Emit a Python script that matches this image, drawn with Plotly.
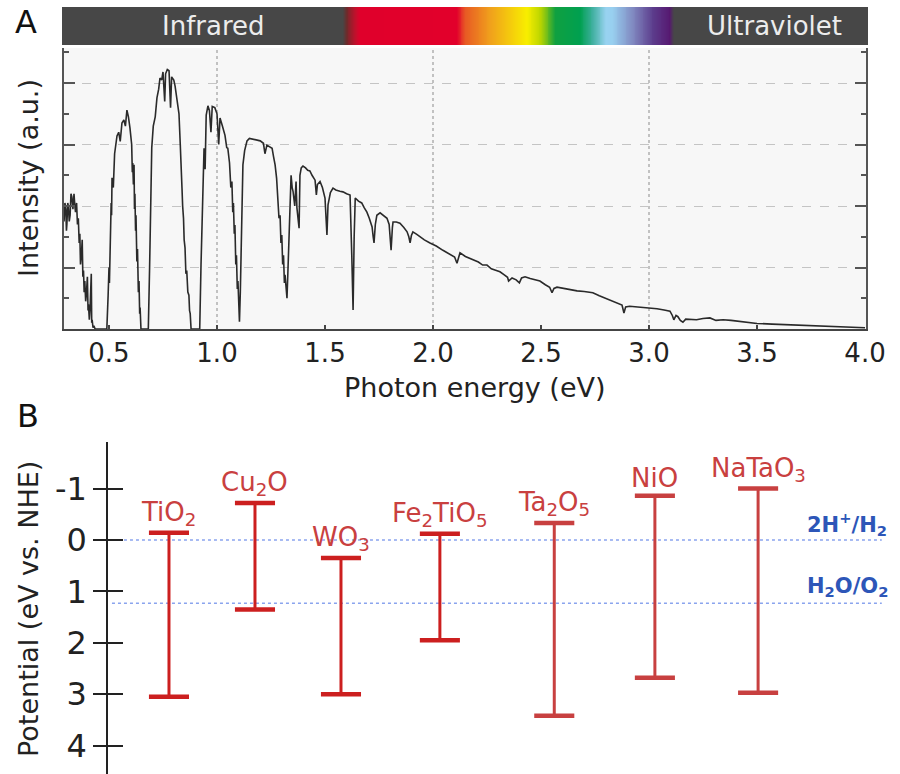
import plotly.graph_objects as go

W, H = 900, 774

# ---------------- Panel A: solar spectrum, (photon energy eV, intensity a.u.) ----
spectrum_points = [
    (0.292, 1.75), (0.296, 2.05), (0.300, 1.95), (0.303, 1.60), (0.305, 1.70), (0.309, 2.05),
    (0.312, 2.00), (0.316, 1.75), (0.320, 1.85), (0.324, 2.20), (0.328, 2.15), (0.333, 1.95),
    (0.338, 2.20), (0.342, 2.00), (0.345, 1.90), (0.350, 2.05), (0.354, 1.70), (0.358, 1.80),
    (0.362, 1.40), (0.365, 1.55), (0.368, 1.05), (0.372, 1.20), (0.376, 1.45), (0.379, 0.85),
    (0.382, 0.95), (0.385, 0.60), (0.388, 0.78), (0.392, 0.45), (0.395, 0.55), (0.400, 0.85),
    (0.403, 0.30), (0.405, 0.40), (0.409, 0.15), (0.412, 0.30), (0.418, 0.90), (0.420, 0.10),
    (0.422, 0.15), (0.426, 0.02), (0.430, 0.05), (0.436, 0.00), (0.480, 0.00),
    (0.490, 0.00), (0.496, 0.55), (0.500, 1.00), (0.502, 0.75), (0.505, 1.53), (0.507, 1.35),
    (0.510, 2.05), (0.512, 1.85), (0.514, 2.46), (0.520, 2.30), (0.526, 2.85), (0.537, 3.14),
    (0.545, 3.20), (0.552, 3.05), (0.560, 3.35), (0.569, 3.40), (0.576, 3.30), (0.583, 3.56),
    (0.590, 3.45), (0.597, 3.27), (0.605, 3.00), (0.608, 2.55), (0.610, 2.70), (0.613, 2.35),
    (0.616, 2.67), (0.618, 1.95), (0.620, 2.20), (0.623, 1.60), (0.625, 1.85), (0.629, 1.10),
    (0.632, 1.30), (0.636, 0.60), (0.639, 0.78), (0.642, 0.25), (0.644, 0.35), (0.648, 0.00),
    (0.676, 0.00),
    (0.682, 0.00), (0.688, 1.00), (0.692, 1.90), (0.698, 2.95), (0.705, 3.30), (0.714, 3.45),
    (0.722, 3.76), (0.730, 3.90), (0.736, 4.08), (0.744, 4.05), (0.750, 4.18), (0.758, 3.70),
    (0.762, 4.15), (0.770, 4.22), (0.778, 4.20), (0.785, 3.60), (0.790, 4.10), (0.800, 4.05),
    (0.806, 3.95), (0.812, 3.80), (0.818, 3.70), (0.824, 3.50), (0.830, 3.00), (0.834, 2.45),
    (0.838, 2.29), (0.841, 2.00), (0.845, 1.80), (0.848, 1.45), (0.852, 1.32), (0.856, 0.90),
    (0.860, 0.95), (0.865, 0.60), (0.870, 0.55), (0.873, 0.30), (0.876, 0.25), (0.880, 0.00),
    (0.915, 0.00),
    (0.920, 0.00), (0.926, 1.04), (0.932, 1.97), (0.940, 2.94), (0.945, 2.60), (0.950, 3.48),
    (0.958, 3.63), (0.965, 3.55), (0.972, 3.20), (0.978, 3.62), (0.990, 3.60), (1.000, 3.50),
    (1.008, 3.00), (1.014, 3.43), (1.025, 3.30), (1.037, 3.15), (1.045, 2.95), (1.050, 2.94),
    (1.058, 2.70), (1.064, 2.30), (1.069, 2.40), (1.073, 1.90), (1.076, 2.05), (1.080, 1.55),
    (1.083, 1.69), (1.087, 1.05), (1.090, 1.20), (1.094, 0.65), (1.097, 0.78), (1.100, 0.40),
    (1.104, 0.12), (1.108, 0.60), (1.112, 1.30), (1.116, 1.75), (1.120, 2.67), (1.128, 2.90),
    (1.139, 3.06), (1.150, 3.10), (1.167, 3.09), (1.185, 3.08), (1.200, 3.06), (1.215, 3.02),
    (1.222, 2.85), (1.231, 2.99), (1.245, 2.96), (1.255, 2.94), (1.262, 2.80), (1.269, 2.67),
    (1.276, 2.45), (1.282, 2.18), (1.287, 1.80), (1.292, 1.85), (1.296, 1.40), (1.300, 1.53),
    (1.304, 1.05), (1.308, 1.20), (1.312, 0.75), (1.315, 0.88), (1.320, 0.60), (1.324, 0.50),
    (1.328, 0.90), (1.333, 1.59), (1.338, 2.10), (1.343, 2.50), (1.348, 2.30), (1.352, 2.24),
    (1.360, 2.00), (1.366, 2.40), (1.370, 1.97), (1.376, 1.75), (1.380, 1.64), (1.384, 2.50),
    (1.390, 2.62), (1.398, 2.65), (1.410, 2.62), (1.420, 2.58), (1.430, 2.57), (1.440, 2.50),
    (1.448, 2.45), (1.454, 2.42), (1.460, 2.18), (1.465, 2.35), (1.477, 2.40), (1.488, 2.30),
    (1.500, 2.13), (1.505, 1.75), (1.509, 1.53), (1.514, 2.02), (1.525, 2.22), (1.537, 2.29),
    (1.550, 2.26), (1.569, 2.24), (1.583, 2.23), (1.600, 2.20), (1.616, 2.18), (1.624, 1.20),
    (1.630, 0.31), (1.635, 1.50), (1.640, 2.13), (1.655, 2.08), (1.670, 2.05), (1.682, 1.97),
    (1.694, 1.90), (1.705, 1.80), (1.718, 1.66), (1.723, 1.50), (1.727, 1.40), (1.733, 1.70),
    (1.740, 1.85), (1.755, 1.89), (1.770, 1.84), (1.787, 1.80), (1.797, 1.70), (1.806, 1.28),
    (1.812, 1.65), (1.815, 1.74), (1.830, 1.74), (1.847, 1.72), (1.865, 1.65), (1.880, 1.58),
    (1.888, 1.50), (1.894, 1.40), (1.900, 1.52), (1.907, 1.58), (1.925, 1.54), (1.940, 1.50),
    (1.960, 1.45), (1.986, 1.40), (2.015, 1.35), (2.046, 1.28), (2.075, 1.22), (2.100, 1.17),
    (2.111, 1.07), (2.125, 1.24), (2.150, 1.18), (2.185, 1.12), (2.210, 1.09), (2.230, 1.04),
    (2.250, 1.04), (2.270, 0.98), (2.290, 0.95), (2.310, 0.93), (2.330, 0.88), (2.345, 0.84),
    (2.350, 0.78), (2.366, 0.83), (2.385, 0.80), (2.400, 0.75), (2.410, 0.83), (2.426, 0.85),
    (2.450, 0.82), (2.470, 0.80), (2.495, 0.78), (2.520, 0.72), (2.540, 0.68), (2.551, 0.59),
    (2.560, 0.66), (2.574, 0.68), (2.600, 0.66), (2.630, 0.64), (2.667, 0.62), (2.700, 0.61),
    (2.740, 0.59), (2.770, 0.54), (2.800, 0.50), (2.820, 0.47), (2.850, 0.43), (2.875, 0.39),
    (2.884, 0.26), (2.892, 0.36), (2.910, 0.37), (2.940, 0.36), (2.958, 0.36), (3.000, 0.35),
    (3.037, 0.33), (3.070, 0.31), (3.097, 0.29), (3.108, 0.22), (3.115, 0.15), (3.125, 0.22),
    (3.134, 0.20), (3.145, 0.14), (3.157, 0.11), (3.170, 0.16), (3.190, 0.16), (3.220, 0.15),
    (3.250, 0.17), (3.282, 0.18), (3.310, 0.14), (3.343, 0.15), (3.380, 0.14), (3.407, 0.13),
    (3.450, 0.11), (3.500, 0.09), (3.570, 0.08), (3.639, 0.07), (3.720, 0.05), (3.790, 0.04),
    (3.880, 0.03), (3.977, 0.02), (4.000, 0.02),
]
energy_ev = [p[0] for p in spectrum_points]
intensity = [p[1] for p in spectrum_points]

x_ticks_a = [0.5, 1.0, 1.5, 2.0, 2.5, 3.0, 3.5, 4.0]
x_grid_a = [1.0, 2.0, 3.0]

# visible-light colour band (photon energy in eV -> colour)
band_stop_ev = [1.583, 1.600, 1.640, 1.665, 2.110, 2.150, 2.264, 2.435, 2.500, 2.565,
                2.680, 2.740, 2.800, 2.830, 2.926, 3.019, 3.097, 3.115]
band_stop_color = ["#474747", "#6e2a2a", "#c2102c", "#e0002b", "#e2002b", "#e85a24",
                   "#f0a01c", "#f8ee00", "#b8d400", "#10a040", "#00a050", "#40b0a0",
                   "#98d2f0", "#98d0f0", "#8088c0", "#5c3c8c", "#561870", "#474747"]
band_labels = ["Infrared", "Ultraviolet"]

# ---------------- Panel B: band edges ----------------
materials = ["TiO<sub>2</sub>", "Cu<sub>2</sub>O", "WO<sub>3</sub>",
             "Fe<sub>2</sub>TiO<sub>5</sub>", "Ta<sub>2</sub>O<sub>5</sub>",
             "NiO", "NaTaO<sub>3</sub>"]
cb_edge = [-0.14, -0.72, 0.35, -0.12, -0.33, -0.86, -1.00]
vb_edge = [3.05, 1.35, 3.00, 1.95, 3.42, 2.68, 2.97]
redox_levels = [0.0, 1.23]
redox_labels = ["2H<sup>+</sup>/H<sub>2</sub>", "H<sub>2</sub>O/O<sub>2</sub>"]
b_tickvals = [-1, 0, 1, 2, 3, 4]
b_ticktext = ["-1", "0", "1", "2", "3", "4"]

# layout-only helpers
x_pos = [1.0, 2.0, 3.0, 4.15, 5.48, 6.65, 7.85]
bar_colors = ["#cc1f1f", "#cc1f1f", "#cc1f1f", "#cc1f1f", "#c84040", "#c84040", "#c84040"]
label_color = "#c9403f"
cap_half = 0.233

FONT = "DejaVu Sans"

fig = go.Figure()

def px_x(p):
    return p / W

def px_y(p):
    return 1 - p / H

# colour band heatmap
zmin, zmax = 0.2824, 4.014
cs = [[0.0, "#474747"]]
for e, c in zip(band_stop_ev, band_stop_color):
    cs.append([(e - zmin) / (zmax - zmin), c])
cs.append([1.0, "#474747"])
n = 900
xs = [zmin + (zmax - zmin) * i / (n - 1) for i in range(n)]
fig.add_trace(go.Heatmap(x=xs, y=[0, 1], z=[xs, xs], colorscale=cs, zmin=zmin, zmax=zmax,
                         showscale=False, hoverinfo="skip", xaxis="x2", yaxis="y2"))

# spectrum
fig.add_trace(go.Scatter(x=energy_ev, y=intensity, mode="lines",
                         line=dict(color="#2a2a2a", width=1.6), xaxis="x", yaxis="y",
                         showlegend=False, hoverinfo="skip"))

# band edges
for i, m in enumerate(materials):
    p = x_pos[i]
    fig.add_trace(go.Scatter(x=[p, p], y=[cb_edge[i], vb_edge[i]], mode="lines",
                             line=dict(color=bar_colors[i], width=3), xaxis="x3", yaxis="y3",
                             showlegend=False, hoverinfo="skip"))
    fig.add_trace(go.Scatter(x=[p - cap_half, p + cap_half, None, p - cap_half, p + cap_half],
                             y=[cb_edge[i], cb_edge[i], None, vb_edge[i], vb_edge[i]],
                             mode="lines", line=dict(color=bar_colors[i], width=4.5),
                             xaxis="x3", yaxis="y3", showlegend=False, hoverinfo="skip"))

shapes = []
# panel A background
shapes.append(dict(type="rect", xref="x domain", yref="y domain", x0=0, x1=1, y0=0, y1=1,
                   fillcolor="#f7f7f7", line=dict(width=0), layer="below"))
for g in x_grid_a:
    shapes.append(dict(type="line", xref="x", yref="y domain", x0=g, x1=g, y0=0, y1=1,
                       line=dict(color="#b0b0b0", width=1.5, dash="dot"), layer="below"))
for lv in redox_levels:
    shapes.append(dict(type="line", xref="x3 domain", yref="y3", x0=0.005, x1=0.977, y0=lv, y1=lv,
                       line=dict(color="#8aa4ee", width=1.5, dash="dot"), layer="below"))

def paper_text(text, x, y, size, color, angle=0, xanchor="center"):
    return dict(text=text, x=px_x(x), y=px_y(y), xref="paper", yref="paper",
                xanchor=xanchor, yanchor="middle", textangle=angle, showarrow=False,
                font=dict(family=FONT, size=size, color=color))

annotations = [
    paper_text("A", 26, 22, 32, "#111"),
    paper_text("B", 28, 416, 32, "#111"),
    paper_text(band_labels[0], 213, 26, 26, "#ececec"),
    paper_text(band_labels[1], 774, 26, 26, "#ececec"),
    paper_text("Photon energy (eV)", 475, 387, 27, "#222"),
    paper_text("Intensity (a.u.)", 28, 178, 27, "#222", angle=-90),
    paper_text("Potential (eV vs. NHE)", 28, 609, 27, "#222", angle=-90),
]
for i, m in enumerate(materials):
    annotations.append(dict(text=m, x=x_pos[i], y=cb_edge[i], xref="x3", yref="y3",
                            xanchor="center", yanchor="bottom", yshift=1, showarrow=False,
                            font=dict(family=FONT, size=26, color=label_color)))
label_y = [524, 587]
for t, ly in zip(redox_labels, label_y):
    annotations.append(paper_text("<b>" + t + "</b>", 805, ly, 21, "#2d56b8", xanchor="left"))

fig.update_layout(
    width=W, height=H, margin=dict(l=0, r=0, t=0, b=0, autoexpand=False),
    paper_bgcolor="white", plot_bgcolor="rgba(0,0,0,0)",
    showlegend=False,
    font=dict(family=FONT, color="#222"),
    xaxis=dict(domain=[px_x(64), px_x(866)], range=[0.2917, 4.0046], anchor="y",
               tickvals=x_ticks_a, ticktext=[f"{v:.1f}" for v in x_ticks_a],
               ticks="inside", ticklen=4, tickwidth=2, tickcolor="#444",
               showline=True, linecolor="#444", linewidth=2, mirror=False,
               showgrid=False, zeroline=False,
               tickfont=dict(family=FONT, size=26, color="#222")),
    yaxis=dict(domain=[px_y(329), px_y(48)], range=[0, 4.57], anchor="x",
               dtick=1, tick0=0, ticks="inside", ticklen=11, tickwidth=2, tickcolor="#555",
               showticklabels=False, showline=True, linecolor="#555", linewidth=2,
               mirror="ticks", showgrid=True, gridcolor="#c4c4c4", griddash="dash",
               gridwidth=1, zeroline=False,
               minor=dict(dtick=0.5, tick0=0, ticks="inside", ticklen=5, tickcolor="#555",
                          tickwidth=1.5, showgrid=False)),
    xaxis2=dict(domain=[px_x(62), px_x(868)], range=[zmin, zmax], anchor="y2",
                visible=False, fixedrange=True),
    yaxis2=dict(domain=[px_y(45), px_y(7)], range=[0, 1], anchor="x2", visible=False),
    xaxis3=dict(domain=[px_x(108), 1.0], range=[0.291, 9.5], anchor="y3", visible=False),
    yaxis3=dict(domain=[0, px_y(442)], range=[4.553, -1.907], anchor="x3",
                tickvals=b_tickvals, ticktext=b_ticktext, ticks="outside", ticklen=13,
                tickwidth=1.5, tickcolor="#222", showline=True, linecolor="#222",
                linewidth=1.5, showgrid=False, zeroline=False,
                tickfont=dict(family=FONT, size=32, color="#222")),
    yaxis4=dict(domain=[0, px_y(442)], range=[4.553, -1.907], anchor="x3", overlaying="y3",
                tickvals=b_tickvals, ticks="inside", ticklen=15, tickwidth=1.5,
                tickcolor="#222", showticklabels=False, showline=False, showgrid=False,
                zeroline=False),
    shapes=shapes,
    annotations=annotations,
)
# invisible helper trace so the overlay axis (inside half of the crossing ticks) is drawn
fig.add_trace(go.Scatter(x=[x_pos[0]], y=[cb_edge[0]], mode="markers", marker=dict(opacity=0),
                         xaxis="x3", yaxis="y4", showlegend=False, hoverinfo="skip"))

fig.write_html("out.html")
